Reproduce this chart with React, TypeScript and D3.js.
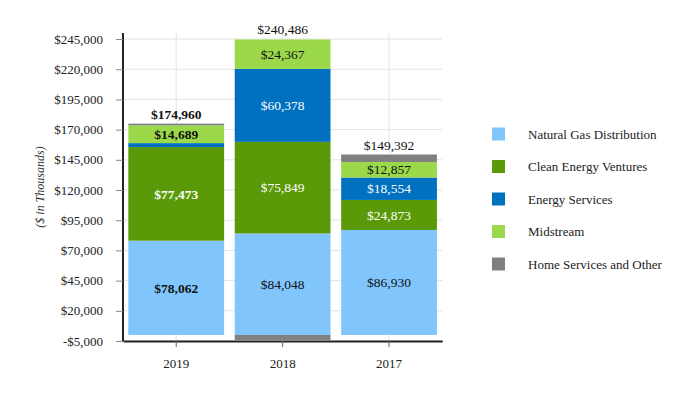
import React, { useEffect, useRef } from 'react';
import * as d3 from 'd3';

// años (en el orden del gráfico)
const years = ['2019', '2018', '2017'];

// series
const seriesNames = [
  'Natural Gas Distribution',
  'Clean Energy Ventures',
  'Energy Services',
  'Midstream',
  'Home Services and Other',
];
const naturalGas = [78062, 84048, 86930];
const cleanEnergy = [77473, 75849, 24873];
const energyServices = [3300, 60378, 18554];
const midstream = [14689, 24367, 12857];
const homeServices = [1436, -4156, 6178];
const totals = [174960, 240486, 149392];

// etiquetas visibles por segmento
const showLabel = [
  [true, true, true],
  [true, true, true],
  [false, true, true],
  [true, true, true],
  [false, false, false],
];

const yTicks = [-5000, 20000, 45000, 70000, 95000, 120000, 145000, 170000, 195000, 220000, 245000];

const colors = ['#80c6fc', '#5a9a08', '#0070c0', '#9cd94a', '#808080'];
const labelColors = ['#111', '#fff', '#fff', '#111', '#111'];

const FONT = "'Liberation Serif', 'DejaVu Serif', serif";

const App = () => {
  const ref = useRef<SVGSVGElement>(null);

  useEffect(() => {
    const svg = d3.select(ref.current);
    svg.selectAll('*').remove();

    const left = 123, right = 442.25, top = 33, bottom = 341;

    const x = d3.scaleBand().domain(years).range([left, right]).paddingInner(0.1).paddingOuter(0.05);
    const y = d3.scaleLinear().domain([-5000, 250000]).range([bottom, top]);

    const values = [naturalGas, cleanEnergy, energyServices, midstream, homeServices];

    // rejilla
    const grid = svg.append('g');
    grid.selectAll('line.h')
      .data(yTicks)
      .enter().append('line')
      .attr('x1', left).attr('x2', right)
      .attr('y1', d => y(d)).attr('y2', d => y(d))
      .attr('stroke', '#e3e3e3').attr('stroke-width', 1);
    grid.selectAll('line.v')
      .data(years)
      .enter().append('line')
      .attr('x1', d => x(d)! + x.bandwidth() / 2).attr('x2', d => x(d)! + x.bandwidth() / 2)
      .attr('y1', top).attr('y2', bottom)
      .attr('stroke', '#e3e3e3').attr('stroke-width', 1);

    // barras apiladas
    years.forEach((yr, i) => {
      let pos = 0;
      let neg = 0;
      values.forEach((vals, s) => {
        const v = vals[i];
        let y0, y1;
        if (v >= 0) { y0 = pos; y1 = pos + v; pos = y1; }
        else { y0 = neg + v; y1 = neg; neg = y0; }
        svg.append('rect')
          .attr('x', x(yr)!)
          .attr('width', x.bandwidth())
          .attr('y', y(y1))
          .attr('height', y(y0) - y(y1))
          .attr('fill', colors[s]);
        if (showLabel[s][i]) {
          svg.append('text')
            .attr('x', x(yr)! + x.bandwidth() / 2)
            .attr('y', y((y0 + y1) / 2))
            .attr('dy', '0.35em')
            .attr('text-anchor', 'middle')
            .style('font-size', '13.5px')
            .style('font-weight', i === 0 ? 'bold' : 'normal')
            .attr('fill', labelColors[s])
            .text(d3.format('$,')(v));
        }
      });
      // total
      svg.append('text')
        .attr('x', x(yr)! + x.bandwidth() / 2)
        .attr('y', y(pos) - 5)
        .attr('text-anchor', 'middle')
        .style('font-size', '13.5px')
        .style('font-weight', i === 0 ? 'bold' : 'normal')
        .attr('fill', '#111')
        .text(d3.format('$,')(totals[i]));
    });

    // ejes
    const yAxis = svg.append('g')
      .attr('transform', `translate(${left},0)`)
      .call(d3.axisLeft(y).tickValues(yTicks).tickSize(7).tickPadding(13).tickFormat(d => {
        const n = +d;
        return (n < 0 ? '-$' : '$') + d3.format(',')(Math.abs(n));
      }));
    yAxis.attr('font-family', null).attr('font-size', null);
    yAxis.select('.domain').attr('stroke', '#222').attr('stroke-width', 2).attr('d', `M0,${top}V${bottom}`);
    yAxis.selectAll('.tick line').attr('stroke', '#888');
    yAxis.selectAll('text').style('font-size', '13px').attr('fill', '#222');

    const xAxis = svg.append('g')
      .attr('transform', `translate(0,${bottom})`)
      .call(d3.axisBottom(x).tickSize(6).tickPadding(12).tickSizeOuter(0));
    xAxis.attr('font-family', null).attr('font-size', null);
    xAxis.select('.domain').attr('stroke', '#222').attr('stroke-width', 2);
    xAxis.selectAll('.tick line').attr('stroke', '#666');
    xAxis.selectAll('text').style('font-size', '13px').attr('fill', '#222');

    // título del eje
    svg.append('text')
      .attr('transform', `translate(40,187) rotate(-90)`)
      .attr('dy', '0.35em')
      .attr('text-anchor', 'middle')
      .style('font-style', 'italic')
      .style('font-size', '12px')
      .attr('fill', '#333')
      .text('($ in Thousands)');

    // leyenda
    const legend = svg.append('g');
    seriesNames.forEach((name, s) => {
      const cy = 134 + s * 32.5;
      legend.append('rect')
        .attr('x', 492).attr('y', cy - 6.5)
        .attr('width', 13).attr('height', 13)
        .attr('fill', colors[s]);
      legend.append('text')
        .attr('x', 528).attr('y', cy)
        .attr('dy', '0.35em')
        .style('font-size', '13px')
        .attr('fill', '#222')
        .text(name);
    });
  }, []);

  return (
    <svg
      ref={ref}
      width={700}
      height={396}
      style={{ position: 'absolute', left: 0, top: 0, fontFamily: FONT }}
    />
  );
};

export default App;
